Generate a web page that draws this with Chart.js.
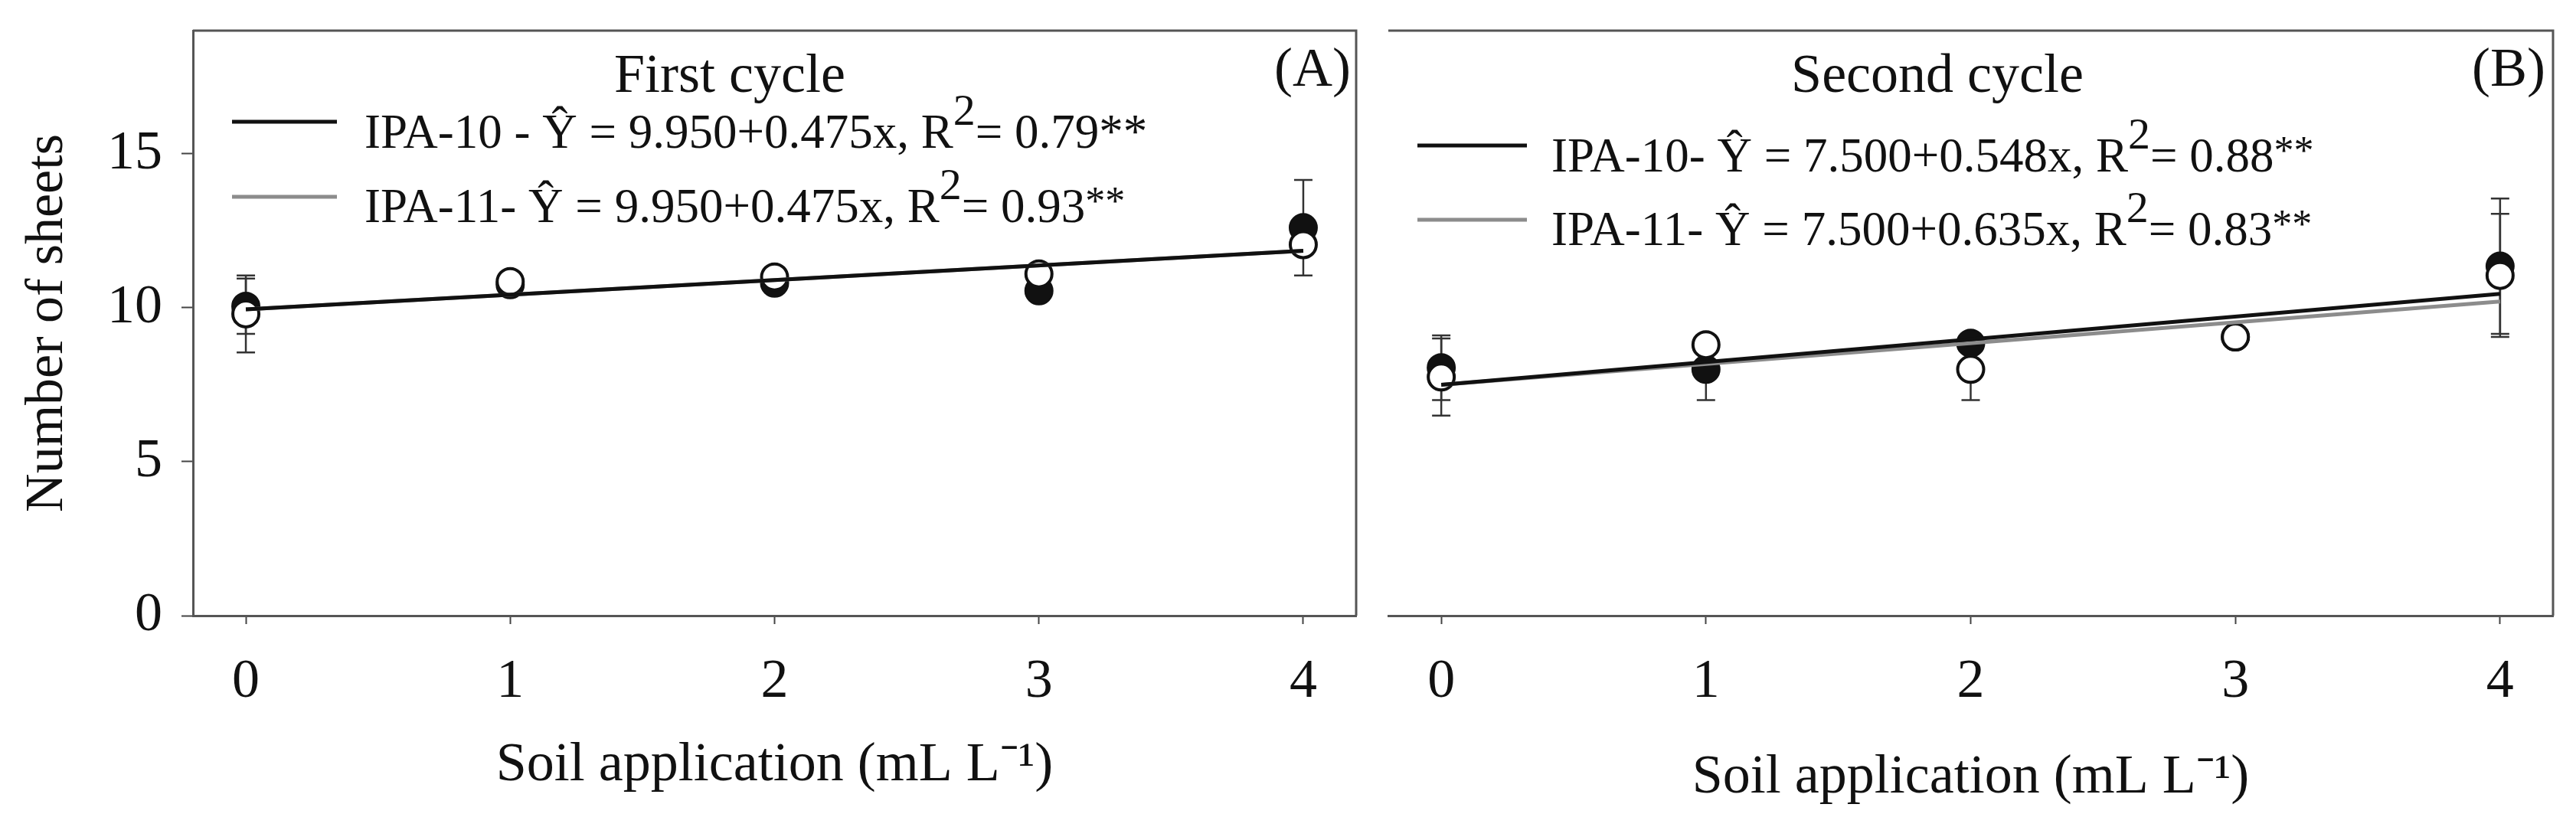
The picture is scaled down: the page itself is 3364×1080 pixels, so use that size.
<!DOCTYPE html>
<html><head><meta charset="utf-8">
<script src="https://cdn.jsdelivr.net/npm/chart.js@4.4.1/dist/chart.umd.min.js"></script>
<style>
html,body{margin:0;padding:0;background:#fff;}
#wrap{position:relative;width:3364px;height:1080px;overflow:hidden;background:#fff;}
canvas{position:absolute;top:0;}
#cA{left:0;} #cB{left:1792px;}
</style></head><body>
<div id="wrap"><canvas id="cA" width="1792" height="1080"></canvas><canvas id="cB" width="1572" height="1080"></canvas></div>
<script>
// ---------- data ----------
const doses = [0, 1, 2, 3, 4];
const fitX = [0, 4];
// First cycle (A)
const ipa10First = [10.05, 10.75, 10.8, 10.55, 12.6];
const ipa11First = [9.8, 10.85, 11.0, 11.1, 12.05];
const ipa10FirstErr = [0.9, 0, 0, 0, 1.55];
const ipa11FirstErr = [1.25, 0, 0, 0, 0];
const fit10First = [9.95, 11.85];
const fit11First = [9.95, 11.85];
// Second cycle (B)
const ipa10Second = [8.05, 8.0, 8.85, 9.05, 11.35];
const ipa11Second = [7.75, 8.8, 8.0, 9.05, 11.05];
const ipa10SecondErr = [1.05, 1.0, 0, 0, 2.2];
const ipa11SecondErr = [1.25, 0, 1.0, 0, 2.0];
const fit10Second = [7.5, 10.45];
const fit11Second = [7.5, 10.2];
// texts
const panelTitles = ["First cycle", "Second cycle"];
const panelLabels = ["(A)", "(B)"];
const legendFirst = ["IPA-10 - Ŷ = 9.950+0.475x, R^2= 0.79**", "IPA-11- Ŷ = 9.950+0.475x, R^2= 0.93^**"];
const legendSecond = ["IPA-10- Ŷ = 7.500+0.548x, R^2= 0.88^**", "IPA-11- Ŷ = 7.500+0.635x, R^2= 0.83^**"];
const xAxisTitle = "Soil application (mL L⁻¹)";
const yAxisTitle = "Number of sheets";
const yMin = 0, yMax = 19, yStep = 5;
const xMin = -0.2, xMax = 4.2;

// ---------- styling ----------
const FONT = "'Liberation Serif','Times New Roman',serif";
Chart.defaults.font.family = FONT;
Chart.defaults.color = '#111';
const AXIS = '#555';
const BLACK = '#111';
const GRAY = '#8c8c8c';

function parseRich(s){
  const out = []; let buf = ''; let i = 0;
  while (i < s.length){
    if (s[i] === '^'){
      if (buf){ out.push({t:buf, sup:false}); buf=''; }
      i++; let sup='';
      while (i < s.length && /[0-9*]/.test(s[i])){ sup += s[i]; i++; }
      out.push({t:sup, sup:true});
    } else { buf += s[i]; i++; }
  }
  if (buf) out.push({t:buf, sup:false});
  return out;
}

const errorPlugin = {
  id:'errorBars',
  beforeDatasetsDraw(chart){
    const {ctx, scales:{x, y}} = chart;
    ctx.save();
    ctx.strokeStyle = '#333'; ctx.lineWidth = 2.5;
    chart.data.datasets.forEach(ds => {
      if (!ds.errorBars) return;
      ds.data.forEach((p, i) => {
        const e = ds.errorBars[i];
        if (!e) return;
        const px = x.getPixelForValue(p.x);
        const top = y.getPixelForValue(p.y + e), bot = y.getPixelForValue(p.y - e);
        ctx.beginPath();
        ctx.moveTo(px, top); ctx.lineTo(px, bot);
        ctx.moveTo(px-12, top); ctx.lineTo(px+12, top);
        ctx.moveTo(px-12, bot); ctx.lineTo(px+12, bot);
        ctx.stroke();
      });
    });
    ctx.restore();
  }
};

const framePlugin = {
  id:'frame',
  afterDatasetsDraw(chart){
    const {ctx, chartArea:a} = chart;
    ctx.save();
    ctx.strokeStyle = AXIS; ctx.lineWidth = 3;
    ctx.beginPath();
    ctx.moveTo(a.left, a.top); ctx.lineTo(a.right, a.top); ctx.lineTo(a.right, a.bottom);
    ctx.stroke();
    ctx.restore();
  }
};

function decorPlugin(d){
  return {
    id:'decor',
    afterDraw(chart){
      const {ctx, chartArea:a} = chart;
      ctx.save();
      ctx.fillStyle = BLACK;
      ctx.textBaseline = 'alphabetic';
      ctx.font = `72px ${FONT}`;
      ctx.textAlign = 'center';
      ctx.fillText(d.title, a.left + d.titleDx, a.top + 80);
      ctx.textAlign = 'right';
      ctx.fillText(d.label, a.right - d.labelDx, a.top + 72);
      ctx.textAlign = 'left';
      d.legend.forEach((txt, k) => {
        const ly = a.top + d.lineY[k];
        ctx.strokeStyle = k === 0 ? BLACK : GRAY;
        ctx.lineWidth = 5;
        ctx.beginPath(); ctx.moveTo(a.left + d.lineX0, ly); ctx.lineTo(a.left + d.lineX1, ly); ctx.stroke();
        let tx = a.left + d.textX;
        const by = a.top + d.baseY[k];
        parseRich(txt).forEach(seg => {
          let size = 63, rise = 0;
          if (seg.sup){ if (/\d/.test(seg.t)){ size = 58; rise = 30; } else { size = 52; rise = 10; } }
          ctx.font = `${size}px ${FONT}`;
          ctx.fillText(seg.t, tx, by - rise);
          tx += ctx.measureText(seg.t).width;
        });
      });
      ctx.restore();
    }
  };
}

function pts(xs, ys){ return xs.map((x, i) => ({x, y: ys[i]})); }

function zeroPad(s){ s.paddingTop = 0; s.paddingBottom = 0; s.paddingLeft = 0; s.paddingRight = 0; }

function makeChart(id, c){
  return new Chart(document.getElementById(id), {
    type:'scatter',
    data:{datasets:[
      {label:'IPA-10 fit', data:pts(fitX, c.fit10), showLine:true, borderColor:BLACK, borderWidth:5, pointRadius:0, order:0},
      {label:'IPA-11 fit', data:pts(fitX, c.fit11), showLine:true, borderColor:GRAY, borderWidth:5, pointRadius:0, order:1},
      {label:'IPA-11', data:pts(doses, c.v11), pointRadius:17, pointBorderWidth:4, pointBackgroundColor:'#fff', pointBorderColor:BLACK, errorBars:c.e11, order:2},
      {label:'IPA-10', data:pts(doses, c.v10), pointRadius:18, pointBorderWidth:2, pointBackgroundColor:BLACK, pointBorderColor:BLACK, errorBars:c.e10, order:3}
    ]},
    options:{
      responsive:false, animation:false, devicePixelRatio:1,
      layout:{padding:c.padding},
      plugins:{legend:{display:false}, tooltip:{enabled:false}, title:{display:false}},
      scales:{
        x:{type:'linear', min:xMin, max:xMax,
           afterFit:s => { s.height = 276; zeroPad(s); },
           ticks:{stepSize:1, includeBounds:false, padding:33, color:BLACK, font:{size:72}},
           grid:{drawOnChartArea:false, drawTicks:true, tickLength:11, tickWidth:2, tickColor:'#444'},
           border:{display:true, color:AXIS, width:3},
           title:{display:true, text:xAxisTitle, color:BLACK, font:{size:72}, padding:{top:0, bottom:c.xTitlePad}}},
        y:{type:'linear', min:yMin, max:yMax, display:c.showY,
           afterFit:s => { if (c.showY) s.width = 252; zeroPad(s); },
           ticks:{stepSize:yStep, includeBounds:false, padding:25, color:BLACK, font:{size:72}},
           grid:{drawOnChartArea:false, drawTicks:true, tickLength:15, tickWidth:2, tickColor:'#444'},
           border:{display:true, color:AXIS, width:3},
           title:{display:true, text:yAxisTitle, color:BLACK, font:{size:70}, padding:{top:21, bottom:0}}}
      }
    },
    plugins:[errorPlugin, framePlugin, decorPlugin(c.decor)]
  });
}

makeChart('cA', {
  v10:ipa10First, v11:ipa11First, e10:ipa10FirstErr, e11:ipa11FirstErr,
  fit10:fit10First, fit11:fit11First, showY:true, xTitlePad:37,
  padding:{left:0, top:40, right:5, bottom:0},
  decor:{title:panelTitles[0], label:panelLabels[0], legend:legendFirst,
         titleDx:701, labelDx:7, lineX0:51, lineX1:188, lineY:[119,217], textX:224, baseY:[153,250]}
});
makeChart('cB', {
  v10:ipa10Second, v11:ipa11Second, e10:ipa10SecondErr, e11:ipa11SecondErr,
  fit10:fit10Second, fit11:fit11Second, showY:false, xTitlePad:21,
  padding:{left:8, top:40, right:30, bottom:0},
  decor:{title:panelTitles[1], label:panelLabels[1], legend:legendSecond,
         titleDx:717, labelDx:10, lineX0:38, lineX1:181, lineY:[150,247], textX:213, baseY:[184,280]}
});
</script>
</body></html>
